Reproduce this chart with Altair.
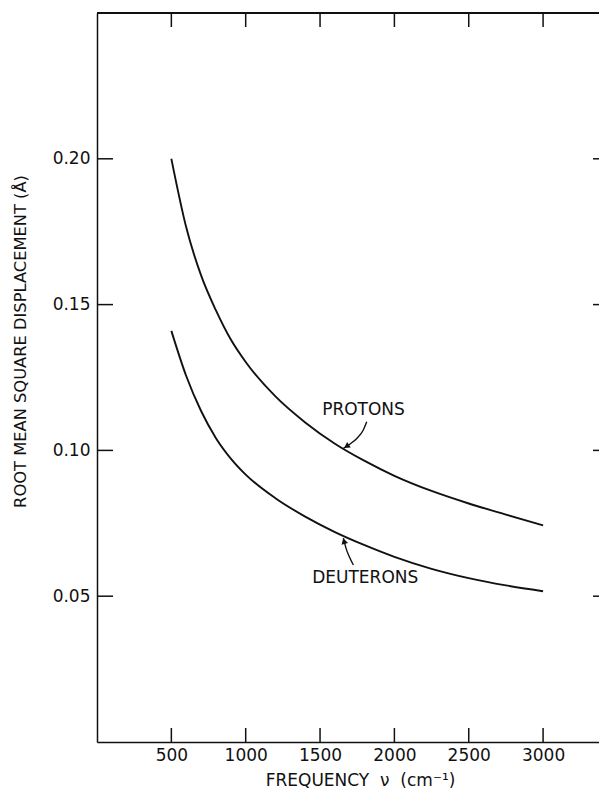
import altair as alt
import pandas as pd

# ---- data ----
freq = [500, 600, 700, 800, 900, 1000, 1200, 1400, 1600, 1800, 2000, 2250, 2500, 2750, 3000]
protons = [0.200, 0.1765, 0.160, 0.148, 0.138, 0.1303, 0.1185, 0.1096, 0.1023, 0.0964,
           0.0913, 0.0861, 0.0818, 0.0780, 0.0743]
deuterons = [0.141, 0.1255, 0.1135, 0.1042, 0.0972, 0.0917, 0.0836, 0.0773, 0.0720, 0.0675,
             0.0635, 0.0594, 0.0562, 0.0537, 0.0517]

x_ticks = [500, 1000, 1500, 2000, 2500, 3000]
y_ticks = [0.05, 0.10, 0.15, 0.20]

label_text = ["PROTONS", "DEUTERONS"]
label_x = [1514, 1447]
label_y = [0.1139, 0.0561]

arrow_p_x = [1814, 1791, 1747, 1702, 1657]
arrow_p_y = [0.1098, 0.1070, 0.1041, 0.1022, 0.1007]
arrow_d_x = [1724, 1697, 1675, 1663, 1657]
arrow_d_y = [0.0607, 0.0635, 0.0664, 0.0687, 0.0699]

head_x = [1678, 1661]
head_y = [0.1014, 0.0689]
head_angle = [237, 344]

FONT = "DejaVu Sans"
W, H = 502, 729
INK = "#111111"
NB = "\u00a0"

curves = pd.DataFrame(
    {"freq": freq * 2,
     "disp": protons + deuterons,
     "series": ["Protons"] * len(freq) + ["Deuterons"] * len(freq)}
)
xt = pd.DataFrame({"x": x_ticks})
yt = pd.DataFrame({"y": y_ticks})
labels = pd.DataFrame({"x": label_x, "y": label_y, "t": label_text})
arrows = pd.DataFrame(
    {"x": arrow_p_x + arrow_d_x,
     "y": arrow_p_y + arrow_d_y,
     "a": ["p"] * len(arrow_p_x) + ["d"] * len(arrow_d_x),
     "o": list(range(len(arrow_p_x))) + list(range(len(arrow_d_x)))}
)
heads = pd.DataFrame({"x": head_x, "y": head_y, "ang": head_angle})

xs = alt.Scale(domain=[0, 3376], nice=False, zero=False)
ys = alt.Scale(domain=[0, 0.25], nice=False, zero=False)

x_axis = alt.Axis(
    values=x_ticks, format="d", ticks=False, tickSize=0, grid=False,
    domain=True, domainColor=INK, domainWidth=1.5,
    labelFont=FONT, labelFontSize=17, labelColor=INK, labelPadding=5,
    title="FREQUENCY" + NB * 2 + "ν" + NB * 2 + "(cm⁻¹)", titleFont=FONT, titleFontSize=17,
    titleFontWeight="normal", titleColor=INK,
    titleX=263, titleY=43, titleAlign="center", titleBaseline="alphabetic",
)
y_axis = alt.Axis(
    values=y_ticks, format=".2f", ticks=False, tickSize=0, grid=False,
    domain=True, domainColor=INK, domainWidth=1.5,
    labelFont=FONT, labelFontSize=17, labelColor=INK, labelPadding=7,
    title="ROOT MEAN SQUARE DISPLACEMENT (Å)", titleFont=FONT, titleFontSize=16.3,
    titleFontWeight="normal", titleColor=INK, titleAngle=270,
    titleX=-77, titleY=328, titleAlign="center", titleBaseline="middle",
)

lines = alt.Chart(curves).mark_line(
    color=INK, strokeWidth=1.9, interpolate="monotone"
).encode(
    x=alt.X("freq:Q", scale=xs, axis=x_axis),
    y=alt.Y("disp:Q", scale=ys, axis=y_axis),
    detail="series:N",
)

left_ticks = alt.Chart(yt).mark_rule(color=INK, strokeWidth=1.5).encode(
    y=alt.Y("y:Q", scale=ys), x=alt.value(0), x2=alt.value(16))
right_ticks = alt.Chart(yt).mark_rule(color=INK, strokeWidth=1.5).encode(
    y=alt.Y("y:Q", scale=ys), x=alt.value(W - 6), x2=alt.value(W))
bottom_ticks = alt.Chart(xt).mark_rule(color=INK, strokeWidth=1.5).encode(
    x=alt.X("x:Q", scale=xs), y=alt.value(H - 14), y2=alt.value(H))
top_ticks = alt.Chart(xt).mark_rule(color=INK, strokeWidth=1.5).encode(
    x=alt.X("x:Q", scale=xs), y=alt.value(0), y2=alt.value(14))
top_border = alt.Chart(xt).mark_rule(color=INK, strokeWidth=1.5).encode(
    x=alt.value(0), x2=alt.value(W), y=alt.value(0))

text = alt.Chart(labels).mark_text(
    font=FONT, fontSize=17, color=INK, align="left", baseline="middle"
).encode(x=alt.X("x:Q", scale=xs), y=alt.Y("y:Q", scale=ys), text="t:N")

arrow_lines = alt.Chart(arrows).mark_line(
    color=INK, strokeWidth=1.4, interpolate="monotone"
).encode(
    x=alt.X("x:Q", scale=xs), y=alt.Y("y:Q", scale=ys),
    detail="a:N", order="o:Q",
)
arrow_heads = alt.Chart(heads).mark_point(
    shape="triangle-up", filled=True, color=INK, size=45, opacity=1
).encode(
    x=alt.X("x:Q", scale=xs), y=alt.Y("y:Q", scale=ys),
    angle=alt.Angle("ang:Q", scale=None),
)

chart = alt.layer(
    lines, left_ticks, right_ticks, bottom_ticks, top_ticks, top_border,
    text, arrow_lines, arrow_heads,
).properties(
    width=W, height=H,
    autosize=alt.AutoSizeParams(type="none"),
    padding={"left": 89, "top": 5, "right": 0, "bottom": 49},
).configure_view(stroke=None).configure(background="white")

chart.save("out.html", embed_options={"renderer": "svg", "actions": False})
